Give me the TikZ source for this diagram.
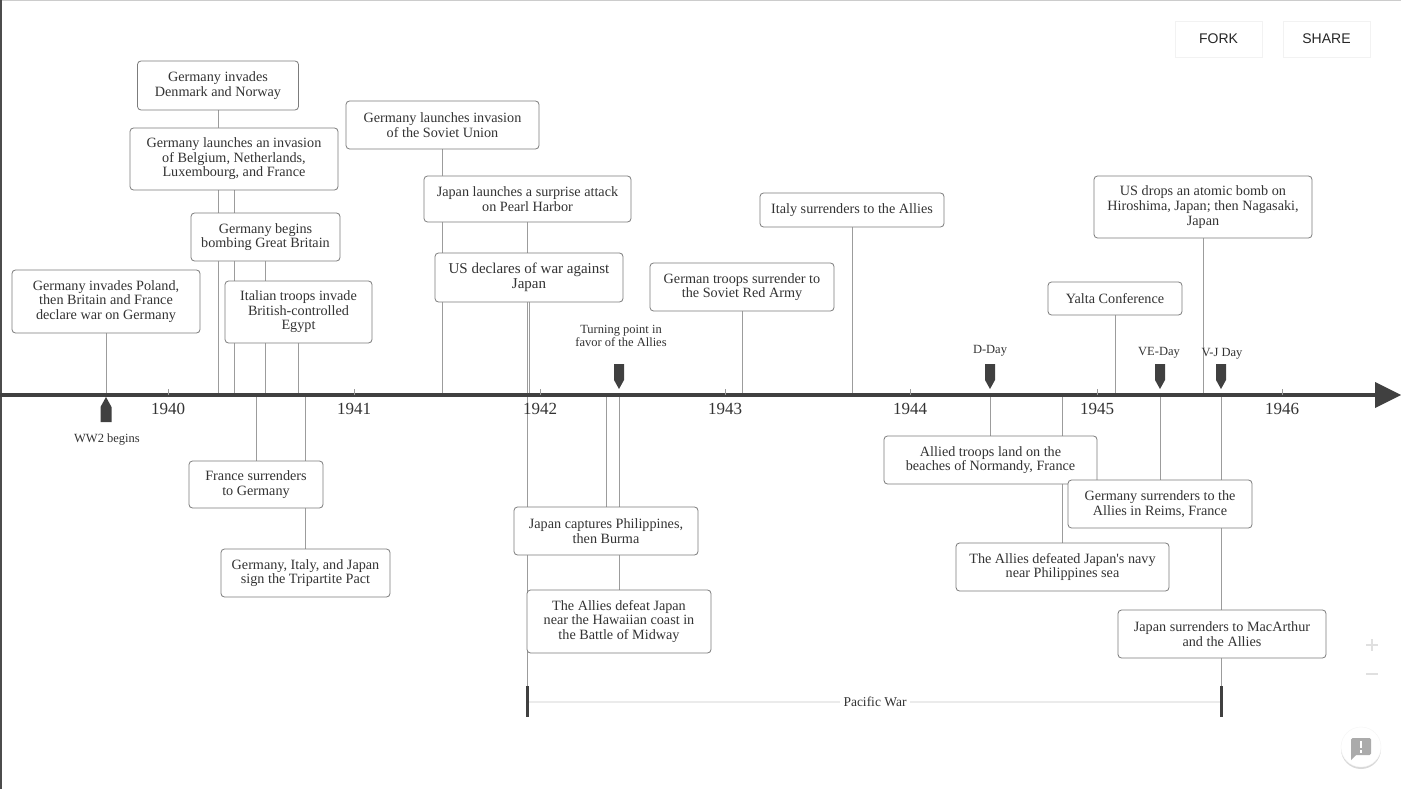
\documentclass[tikz,border=0pt]{standalone}
\usepackage{fontspec}
\setmainfont{Liberation Serif}
\newfontfamily\uisans{Liberation Sans}
\usetikzlibrary{shadows,calc}
\definecolor{axisc}{HTML}{404040}
\definecolor{boxline}{HTML}{7C7C7C}
\definecolor{connc}{HTML}{9C9C9C}
\definecolor{txtc}{HTML}{333333}
\definecolor{spanc}{HTML}{EBEBEB}
\definecolor{iconc}{HTML}{ABABAB}
\pgfdeclarelayer{bg}
\pgfdeclarelayer{back}
\pgfsetlayers{back,bg,main}
\tikzset{
  evt/.style={draw=boxline, line width=0.8pt, rounded corners=3.5pt, fill=white, text=txtc,
    align=center, inner sep=0pt, font=\fontsize{14.2}{14.6}\selectfont},
  box/.style 2 args={evt, minimum width=#1pt, minimum height=#2pt},
  lnk/.style={draw=connc, line width=0.8pt},
  yr/.style={text=txtc, font=\fontsize{17}{17}\selectfont, inner sep=0pt},
  mlab/.style={text=txtc, align=center, font=\fontsize{12.5}{13}\selectfont, inner sep=0pt},
  tickmark/.style={draw=connc, line width=0.8pt},
  btn/.style={fill=white, draw=black!5, line width=0.6pt, minimum width=87pt, minimum height=36pt, inner sep=0pt,
    text=black!85, font=\uisans\fontsize{14}{14}\selectfont,
    drop shadow={shadow xshift=0pt, shadow yshift=-1.5pt, opacity=0.10, fill=black}},
  pwbar/.style={draw=axisc, line width=3pt},
  dflag/.pic={\fill[axisc] (-5,-31) -- (5,-31) -- (5,-15) -- (0,-6) -- (-5,-15) -- cycle;},
  uflag/.pic={\fill[axisc] (-5.5,27) -- (5.5,27) -- (5.5,12) -- (0,2) -- (-5.5,12) -- cycle;}
}
\begin{document}
\begin{tikzpicture}[x=1pt,y=-1pt]
\useasboundingbox (0,0) rectangle (1401,789);
\begin{pgfonlayer}{back}
\fill[white] (0,0) rectangle (1401,789);
\end{pgfonlayer}
\draw[black!20, line width=1pt] (0,0.5) -- (1401,0.5);
\draw[black!70, line width=1.5pt] (0.75,0) -- (0.75,789);

% axis
\coordinate (axL) at (0,395);
\coordinate (axR) at (1376,395);
\draw[axisc, line width=4pt] (axL) -- (axR);
\fill[axisc] (1375,382) -- (1401,395) -- (1375,408) -- cycle;

% years
\foreach \yx/\yl in {168/1940,354/1941,540/1942,725/1943,910/1944,1097/1945,1282/1946}{
  \draw[tickmark] (\yx,389) -- (\yx,395);
  \node[yr] (y\yl) at (\yx,409) {\yl};
}

% events above the axis
\node[box={188}{63}] (poland) at (106,301.5) {Germany invades Poland,\\then Britain and France\\declare war on Germany};
\node[box={161}{49}] (denmark) at (218,85.5) {Germany invades\\Denmark and Norway};
\node[box={208}{62}] (belgium) at (234,159) {Germany launches an invasion\\of Belgium, Netherlands,\\Luxembourg, and France};
\node[box={149}{48}] (bombing) at (265.5,237) {Germany begins\\bombing Great Britain};
\node[box={147}{62}] (egypt) at (298.5,312) {Italian troops invade\\British-controlled\\Egypt};
\node[box={193}{48}] (soviet) at (442.5,125) {Germany launches invasion\\of the Soviet Union};
\node[box={207}{46}] (pearl) at (527.5,199) {Japan launches a surprise attack\\on Pearl Harbor};
\node[box={188}{49}, font=\fontsize{15}{15}\selectfont] (usdecl) at (529,277.5) {US declares of war against\\Japan};
\node[box={184}{48}] (redarmy) at (742,287) {German troops surrender to\\the Soviet Red Army};
\node[box={184}{34}] (italy) at (852,210) {Italy surrenders to the Allies};
\node[box={134}{33}] (yalta) at (1115,298.5) {Yalta Conference};
\node[box={218}{62}] (atomic) at (1203,207) {US drops an atomic bomb on\\Hiroshima, Japan; then Nagasaki,\\Japan};

% events below the axis
\node[box={134}{47}] (france) at (256,484.5) {France surrenders\\to Germany};
\node[box={169}{48}] (tripartite) at (305.5,573) {Germany, Italy, and Japan\\sign the Tripartite Pact};
\node[box={184}{48}] (philippines) at (606,531) {Japan captures Philippines,\\then Burma};
\node[box={184}{63}] (midway) at (619,621.5) {The Allies defeat Japan\\near the Hawaiian coast in\\the Battle of Midway};
\node[box={213}{48}] (normandy) at (990.5,460) {Allied troops land on the\\beaches of Normandy, France};
\node[box={213}{48}] (navy) at (1062.5,567) {The Allies defeated Japan\textquotesingle s navy\\near Philippines sea};
\node[box={184}{48}] (reims) at (1160,504) {Germany surrenders to the\\Allies in Reims, France};
\node[box={208}{48}] (macarthur) at (1222,634) {Japan surrenders to MacArthur\\and the Allies};

% markers
\pic at (106,395) {uflag};
\node[mlab] (ww2) at (107,440) {WW2 begins};
\pic at (619,395) {dflag};
\node[mlab] (turning) at (621,336) {Turning point in\\favor of the Allies};
\pic at (990,395) {dflag};
\node[mlab] (dday) at (990,351) {D-Day};
\pic at (1160,395) {dflag};
\node[mlab] (veday) at (1159,353) {VE-Day};
\pic at (1221,395) {dflag};
\node[mlab] (vjday) at (1222,354) {V-J Day};

% Pacific War span
\coordinate (pwL) at (527,702);
\coordinate (pwR) at (1221,702);
\node[text=txtc, fill=white, inner xsep=3pt, inner ysep=1pt, font=\fontsize{13.5}{14}\selectfont] (pw) at (875,702) {Pacific War};
\draw[spanc, line width=1.6pt] (pwL) -- (pw.west);
\draw[spanc, line width=1.6pt] (pw.east) -- (pwR);
\draw[pwbar] ($(pwL)+(0,-16)$) -- ($(pwL)+(0,15)$);
\draw[pwbar] ($(pwR)+(0,-16)$) -- ($(pwR)+(0,15)$);

% connectors
\begin{pgfonlayer}{bg}
  \foreach \b in {poland,denmark,belgium,bombing,egypt,soviet,pearl,usdecl,redarmy,italy,yalta,atomic}{
    \draw[lnk] (\b.south) -- (\b.south |- axL);
  }
  \foreach \b in {france,tripartite,philippines,midway,normandy,navy,reims}{
    \draw[lnk] (\b.north |- axL) -- (\b.north);
  }
  \draw[lnk] (pwL |- axL) -- ($(pwL)+(0,-16)$);
  \draw[lnk] (pwR |- axL) -- ($(pwR)+(0,-16)$);
\end{pgfonlayer}

% UI buttons
\node[btn] (fork) at (1218.5,39) {FORK};
\node[btn] (share) at (1326.5,39) {SHARE};

% zoom controls
\draw[black!12, line width=1.2pt] (1366,645) -- (1378,645) (1372,639) -- (1372,651);
\draw[black!12, line width=1.2pt] (1366,674) -- (1378,674);

% feedback button
\node[circle, fill=white, draw=black!4, minimum size=40pt, inner sep=0pt,
  drop shadow={shadow xshift=0pt, shadow yshift=-2pt, opacity=0.15, fill=black}] (fb) at (1361,747) {};
\fill[iconc, rounded corners=1.5pt] (1351,738) rectangle (1371,755);
\fill[iconc] (1351,752) -- (1351,760) -- (1357,754) -- cycle;
\fill[white] (1360,741) rectangle (1362,748);
\fill[white] (1360,750) rectangle (1362,752.5);
\end{tikzpicture}
\end{document}
